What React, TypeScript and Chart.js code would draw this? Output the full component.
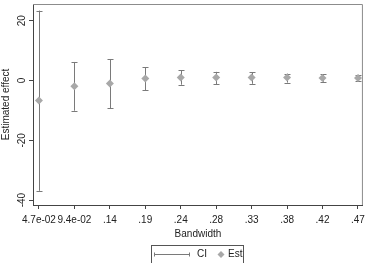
import React, { useEffect, useRef } from "react";
import { Chart, registerables } from "chart.js";

Chart.register(...registerables);

const bandwidthLabels = ["4.7e-02", "9.4e-02", ".14", ".19", ".24", ".28", ".33", ".38", ".42", ".47"];
const estimates = [-6.7, -1.9, -1.0, 0.7, 1.0, 1.0, 1.0, 1.0, 0.8, 0.8];
const ciUpper = [23.4, 6.2, 7.2, 4.4, 3.4, 2.9, 2.7, 2.3, 2.1, 1.9];
const ciLower = [-36.9, -10.1, -9.2, -3.3, -1.4, -1.3, -1.1, -0.7, -0.4, -0.3];
const yTickValues = [-40, -20, 0, 20];
const yTitle = "Estimated effect";
const xTitle = "Bandwidth";
const legendLabels = ["CI", "Est"];

const FONT = '"Liberation Sans", Arial, sans-serif';
const CI_COLOR = "#7a7a7a";
const EST_COLOR = "#a8a8a8";
const AXIS_COLOR = "#444444";
const FRAME_COLOR = "#8c8c8c";

const overlayPlugin = {
  id: "overlay",
  beforeDatasetsDraw(chart: any) {
    const { ctx, chartArea, scales } = chart;
    const xs = scales.x;
    const ys = scales.y;
    ctx.save();
    ctx.strokeStyle = FRAME_COLOR;
    ctx.lineWidth = 1;
    ctx.beginPath();
    ctx.moveTo(chartArea.left, chartArea.top + 0.5);
    ctx.lineTo(chartArea.right - 0.5, chartArea.top + 0.5);
    ctx.lineTo(chartArea.right - 0.5, chartArea.bottom);
    ctx.stroke();
    ctx.strokeStyle = CI_COLOR;
    ctx.lineWidth = 1;
    for (let i = 0; i < estimates.length; i++) {
      const x = Math.round(xs.getPixelForValue(i + 1)) + 0.5;
      const yTop = ys.getPixelForValue(ciUpper[i]);
      const yBot = ys.getPixelForValue(ciLower[i]);
      ctx.beginPath();
      ctx.moveTo(x, yTop);
      ctx.lineTo(x, yBot);
      ctx.moveTo(x - 3, Math.round(yTop) + 0.5);
      ctx.lineTo(x + 3, Math.round(yTop) + 0.5);
      ctx.moveTo(x - 3, Math.round(yBot) + 0.5);
      ctx.lineTo(x + 3, Math.round(yBot) + 0.5);
      ctx.stroke();
    }
    ctx.restore();
  },
  afterDraw(chart: any) {
    const { ctx, chartArea, scales } = chart;
    const ys = scales.y;
    ctx.save();
    ctx.fillStyle = "#222222";
    ctx.font = `10px ${FONT}`;
    ctx.textAlign = "center";
    ctx.textBaseline = "middle";
    for (const v of yTickValues) {
      const y = ys.getPixelForValue(v);
      ctx.save();
      ctx.translate(22, y);
      ctx.rotate(-Math.PI / 2);
      ctx.fillText(String(v), 0, 0);
      ctx.restore();
    }
    ctx.save();
    ctx.translate(6, (chartArea.top + chartArea.bottom) / 2);
    ctx.rotate(-Math.PI / 2);
    ctx.fillText(yTitle, 0, 0);
    ctx.restore();
    ctx.fillText(xTitle, (chartArea.left + chartArea.right) / 2, 234);
    const bx = 151.5, by = 245.5, bw = 92, bh = 18;
    ctx.strokeStyle = "#555555";
    ctx.lineWidth = 1;
    ctx.strokeRect(bx, by, bw, bh);
    const ly = 254.5;
    ctx.strokeStyle = CI_COLOR;
    ctx.beginPath();
    ctx.moveTo(154, ly);
    ctx.lineTo(190, ly);
    ctx.moveTo(154.5, ly - 2);
    ctx.lineTo(154.5, ly + 2);
    ctx.moveTo(189.5, ly - 2);
    ctx.lineTo(189.5, ly + 2);
    ctx.stroke();
    ctx.textAlign = "left";
    ctx.fillStyle = "#222222";
    ctx.fillText(legendLabels[0], 197, ly);
    ctx.fillStyle = EST_COLOR;
    ctx.beginPath();
    ctx.moveTo(221, ly - 3.5);
    ctx.lineTo(224.5, ly);
    ctx.lineTo(221, ly + 3.5);
    ctx.lineTo(217.5, ly);
    ctx.closePath();
    ctx.fill();
    ctx.fillStyle = "#222222";
    ctx.fillText(legendLabels[1], 228, ly);
    ctx.restore();
  },
};

export default function App() {
  const canvasRef = useRef<HTMLCanvasElement | null>(null);

  useEffect(() => {
    document.body.style.margin = "0";
    const canvas = canvasRef.current;
    if (!canvas) return;
    const chart = new Chart(canvas, {
      type: "scatter",
      data: {
        datasets: [
          {
            label: "Est",
            data: estimates.map((v, i) => ({ x: i + 1, y: v })),
            pointStyle: "rectRot",
            pointRadius: 4,
            pointBackgroundColor: EST_COLOR,
            pointBorderColor: EST_COLOR,
            pointBorderWidth: 0,
          },
        ],
      },
      options: {
        animation: false,
        responsive: false,
        devicePixelRatio: 1,
        layout: { padding: { top: -2, right: 5, bottom: 38, left: 0 } },
        plugins: { legend: { display: false }, tooltip: { enabled: false } },
        scales: {
          x: {
            type: "linear",
            min: 0.832,
            max: 10.14,
            afterBuildTicks: (scale: any) => {
              scale.ticks = bandwidthLabels.map((_, i) => ({ value: i + 1 }));
            },
            afterFit: (scale: any) => {
              scale.height = 20;
            },
            ticks: {
              autoSkip: false,
              maxRotation: 0,
              minRotation: 0,
              padding: 5,
              color: "#222222",
              font: { family: FONT, size: 10 },
              callback: (v: any) => bandwidthLabels[Math.round(Number(v)) - 1] ?? "",
            },
            grid: { drawOnChartArea: false, drawTicks: true, tickLength: 4, color: AXIS_COLOR },
            border: { display: true, color: AXIS_COLOR, width: 1 },
          },
          y: {
            type: "linear",
            min: -41.65,
            max: 25.6,
            afterBuildTicks: (scale: any) => {
              scale.ticks = yTickValues.map((v) => ({ value: v }));
            },
            afterFit: (scale: any) => {
              scale.width = 33;
            },
            ticks: { display: false },
            grid: { drawOnChartArea: false, drawTicks: true, tickLength: 4, color: AXIS_COLOR },
            border: { display: true, color: AXIS_COLOR, width: 1 },
          },
        },
      },
      plugins: [overlayPlugin],
    });
    return () => chart.destroy();
  }, []);

  return (
    <div style={{ width: 370, height: 263, background: "#ffffff" }}>
      <canvas ref={canvasRef} width={370} height={263} style={{ display: "block" }} />
    </div>
  );
}
